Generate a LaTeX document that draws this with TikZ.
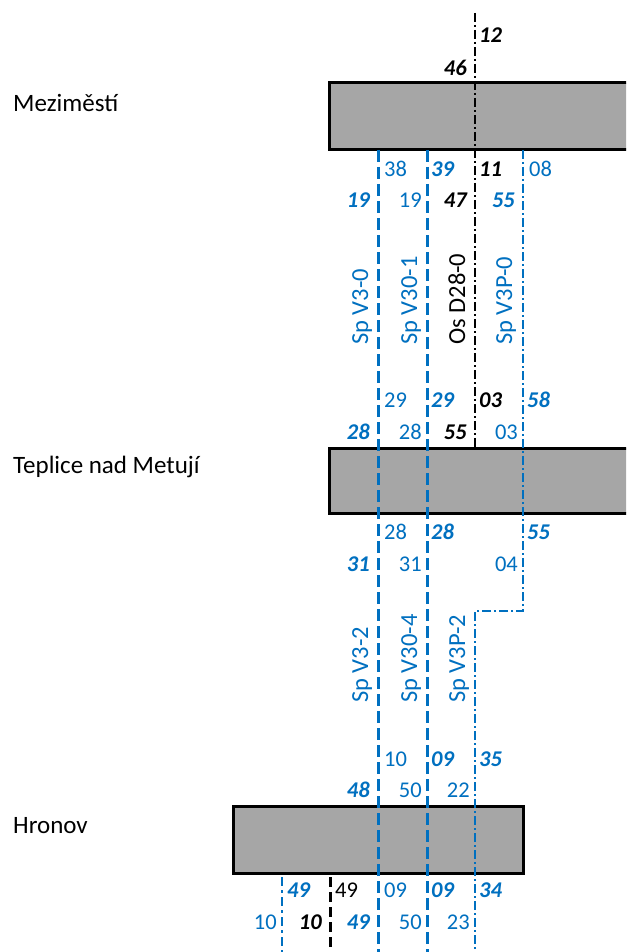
\documentclass[tikz,border=0pt]{standalone}
\usepackage{fontspec}
\setmainfont{Carlito}
\definecolor{lineblue}{RGB}{0,112,192}
\definecolor{boxgrey}{RGB}{166,166,166}
\begin{document}
\begin{tikzpicture}[x=1pt,y=-1pt,
  box/.style={draw=black,line width=3pt,fill=boxgrey,inner sep=0pt,outer sep=0pt},
  stname/.style={anchor=base west,inner sep=0pt,text=black,font=\fontsize{25}{30}\selectfont},
  rg/.style={inner sep=0pt,font=\fontsize{22.5}{27}\selectfont},
  bi/.style={inner sep=0pt,font=\fontsize{22.5}{27}\selectfont\bfseries\itshape},
  bl/.style={text=lineblue},
  bk/.style={text=black},
  rt/.style={anchor=base west},
  lt/.style={anchor=base east},
  rot/.style={rotate=90,anchor=base west,inner sep=0pt,font=\fontsize{24.5}{29}\selectfont},
  trainA/.style={draw=lineblue,line width=3pt,dash pattern=on 12pt off 5pt},
  trainC/.style={draw=black,line width=1.6pt,dash pattern=on 9pt off 3pt on 2pt off 3pt},
  trainD/.style={draw=lineblue,line width=1.3pt,dash pattern=on 9pt off 3pt on 2pt off 3pt},
  trainE/.style={draw=lineblue,line width=2.4pt,dash pattern=on 9pt off 4pt on 3pt off 4pt},
  trainF/.style={draw=black,line width=3pt,dash pattern=on 10pt off 5pt}
]
\useasboundingbox (0,0) rectangle (626,952);
\fill[white] (0,0) rectangle (626,952);
\clip (0,0) rectangle (626,952);

% stations
\node[stname] (mezname) at (13,112) {Meziměstí};
\node[stname] (tepname) at (13,473) {Teplice nad Metují};
\node[stname] (hronname) at (13,833) {Hronov};

\node[box,minimum width=312pt,minimum height=67pt] (mez) at (485,116.5) {};
\node[box,minimum width=312pt,minimum height=65pt] (tep) at (485,480.5) {};
\node[box,minimum width=290pt,minimum height=67pt] (hron) at (378,839.5) {};

% coordinates of line ends
\coordinate (Atop) at (378,150);
\coordinate (Abot) at (378,952);
\coordinate (Btop) at (427,150);
\coordinate (Bbot) at (427,952);
\coordinate (Ctop) at (475,13);
\coordinate (Cbot) at (475,448);
\coordinate (Dtop) at (523,150);
\coordinate (Dk1) at (523,611);
\coordinate (Dk2) at (475,611);
\coordinate (Dbot) at (475,952);
\coordinate (Etop) at (282,877);
\coordinate (Ebot) at (282,952);
\coordinate (Ftop) at (330,877);
\coordinate (Fbot) at (330,952);

\draw[trainA] (Atop) -- (Abot);
\draw[trainA] (Btop) -- (Bbot);
\draw[trainC] (Ctop) -- (Cbot);
\draw[trainD] (Dtop) -- (Dk1) -- (Dk2) -- (Dbot);
\draw[trainE] (Etop) -- (Ebot);
\draw[trainF] (Ftop) -- (Fbot);

% top
\node[bi,bk,rt] (t12) at (479,43) {12};
\node[bi,bk,lt] (t46) at (467,76) {46};

% row 1
\node[rg,bl,rt] (r1a) at (384,176) {38};
\node[bi,bl,rt] (r1b) at (431,176) {39};
\node[bi,bk,rt] (r1c) at (479,176) {11};
\node[rg,bl,rt] (r1d) at (529,176) {08};
% row 2
\node[bi,bl,lt] (r2a) at (370,207) {19};
\node[rg,bl,lt] (r2b) at (422,207) {19};
\node[bi,bk,lt] (r2c) at (467,207) {47};
\node[bi,bl,lt] (r2d) at (515,207) {55};

% rotated upper
\node[rot,text=lineblue] (l1) at (368,345) {Sp V3-0};
\node[rot,text=lineblue] (l2) at (417,345) {Sp V30-1};
\node[rot,text=black] (l3) at (465,345) {Os D28-0};
\node[rot,text=lineblue] (l4) at (512,345) {Sp V3P-0};

% row 3
\node[rg,bl,rt] (r3a) at (384,407) {29};
\node[bi,bl,rt] (r3b) at (431,407) {29};
\node[bi,bk,rt] (r3c) at (479,407) {03};
\node[bi,bl,rt] (r3d) at (527,407) {58};
% row 4
\node[bi,bl,lt] (r4a) at (370,439) {28};
\node[rg,bl,lt] (r4b) at (422,439) {28};
\node[bi,bk,lt] (r4c) at (467,439) {55};
\node[rg,bl,lt] (r4d) at (518,439) {03};

% row 5
\node[rg,bl,rt] (r5a) at (384,539) {28};
\node[bi,bl,rt] (r5b) at (431,539) {28};
\node[bi,bl,rt] (r5d) at (527,539) {55};
% row 6
\node[bi,bl,lt] (r6a) at (370,571) {31};
\node[rg,bl,lt] (r6b) at (422,571) {31};
\node[rg,bl,lt] (r6d) at (518,571) {04};

% rotated lower
\node[rot,text=lineblue] (l5) at (368,703) {Sp V3-2};
\node[rot,text=lineblue] (l6) at (417,703) {Sp V30-4};
\node[rot,text=lineblue] (l7) at (465,703) {Sp V3P-2};

% row 7
\node[rg,bl,rt] (r7a) at (384,766) {10};
\node[bi,bl,rt] (r7b) at (431,766) {09};
\node[bi,bl,rt] (r7d) at (479,766) {35};
% row 8
\node[bi,bl,lt] (r8a) at (370,797) {48};
\node[rg,bl,lt] (r8b) at (422,797) {50};
\node[rg,bl,lt] (r8d) at (470,797) {22};

% row 9
\node[bi,bl,rt] (r9e) at (287,897) {49};
\node[rg,bk,rt] (r9f) at (335,897) {49};
\node[rg,bl,rt] (r9a) at (384,897) {09};
\node[bi,bl,rt] (r9b) at (431,897) {09};
\node[bi,bl,rt] (r9d) at (479,897) {34};
% row 10
\node[rg,bl,lt] (r10e) at (277,929) {10};
\node[bi,bk,lt] (r10f) at (322,929) {10};
\node[bi,bl,lt] (r10a) at (370,929) {49};
\node[rg,bl,lt] (r10b) at (422,929) {50};
\node[rg,bl,lt] (r10d) at (470,929) {23};
\end{tikzpicture}
\end{document}
